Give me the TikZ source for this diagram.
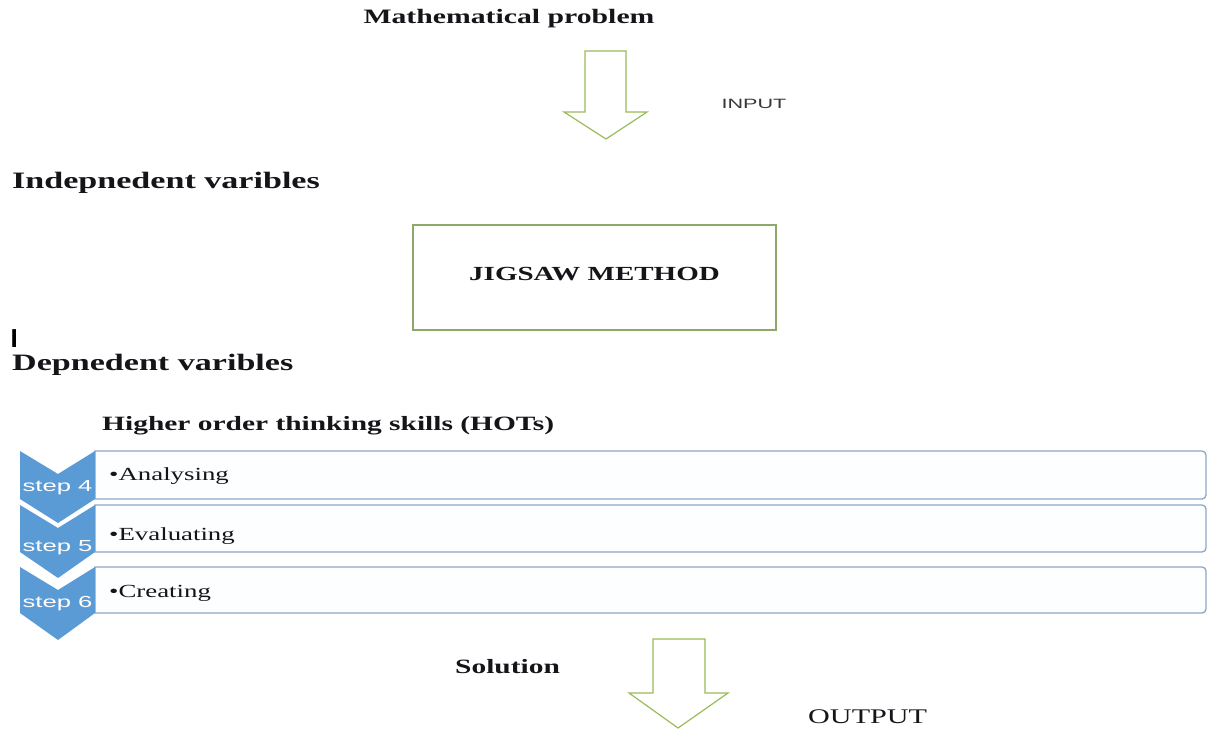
\documentclass[tikz,border=0pt]{standalone}
\usepackage{fontspec}
\setmainfont{Liberation Serif}[FakeStretch=1.45]
\newfontfamily\sansw{Liberation Sans}[FakeStretch=1.6]
\newfontfamily\sansplain{Liberation Sans}
\definecolor{arrowgreen}{RGB}{155,187,89}
\definecolor{boxgreen}{RGB}{140,168,106}
\definecolor{chevblue}{RGB}{91,155,213}
\definecolor{lineblue}{RGB}{140,168,198}
\definecolor{boxfill}{RGB}{253,254,255}
\definecolor{ink}{RGB}{20,20,25}
\tikzset{
  head/.style={font=\fontsize{23.5}{28}\selectfont\bfseries, text=ink, inner sep=0pt, anchor=base west},
  sub/.style={font=\fontsize{20.3}{24}\selectfont\bfseries, text=ink, inner sep=0pt},
  item/.style={font=\fontsize{18.5}{22}\selectfont, text=ink, inner sep=0pt, anchor=base west},
  steplabel/.style={font=\sansw\fontsize{16}{19}\selectfont, text=white, inner sep=0pt, anchor=base},
  blockarrow/.style={draw=arrowgreen, line width=1.2pt, fill=white, line join=miter},
  levelbox/.style={draw=lineblue, line width=1.3pt, fill=boxfill},
  chevron/.style={fill=chevblue, draw=none},
}
\begin{document}
\begin{tikzpicture}[x=1pt,y=-1pt]
\useasboundingbox (0,0) rectangle (1207,729);

% title
\node[sub, font=\fontsize{20.5}{24}\selectfont\bfseries, anchor=base] (mp) at (509,23) {Mathematical problem};

% input arrow
\draw[blockarrow] (585,51) -- (626,51) -- (626,112) -- (647,112) -- (606,139) -- (564,112) -- (585,112) -- cycle;
\node[font=\sansw\fontsize{13.5}{16}\selectfont, text=ink!85, inner sep=0pt, anchor=base] (inp) at (754,108) {INPUT};

% independent variables
\node[head] (indep) at (12,188) {Indepnedent varibles};

% jigsaw box
\node[draw=boxgreen, line width=1.2pt, minimum width=363pt, minimum height=105pt, inner sep=0pt,
      font=\fontsize{20}{24}\selectfont\bfseries, text=ink] (jig) at (594.5,277.5) {\raisebox{7pt}{JIGSAW METHOD}};

% stray mark
\node[font=\sansplain\bfseries\fontsize{26}{30}\selectfont, text=black, inner sep=0pt, anchor=base west] (bar) at (10.5,347) {I};

% dependent variables
\node[head] (dep) at (12,370) {Depnedent varibles};
\node[sub, anchor=base west] (hots) at (102,430) {Higher order thinking skills (HOTs)};

% level boxes (rounded on the right only)
\draw[levelbox] (95,451) [rounded corners=4pt] -- (1206,451) -- (1206,499) [sharp corners] -- (95,499) -- cycle;
\draw[levelbox] (95,505) [rounded corners=4pt] -- (1206,505) -- (1206,552) [sharp corners] -- (95,552) -- cycle;
\draw[levelbox] (95,567) [rounded corners=4pt] -- (1206,567) -- (1206,613) [sharp corners] -- (95,613) -- cycle;

% chevrons
\fill[chevron] (20,451) -- (58,474) -- (95,451) -- (95,499) -- (58,523) -- (20,499) -- cycle;
\fill[chevron] (20,505) -- (58,528) -- (95,505) -- (95,552) -- (58,578) -- (20,552) -- cycle;
\fill[chevron] (20,567) -- (58,590) -- (95,567) -- (95,613) -- (58,640) -- (20,613) -- cycle;

\node[steplabel] (s4) at (57.5,491) {step 4};
\node[steplabel] (s5) at (57.5,551) {step 5};
\node[steplabel] (s6) at (57.5,607) {step 6};

\node[item] (a1) at (109,480) {\textbullet Analysing};
\node[item] (a2) at (109,540) {\textbullet Evaluating};
\node[item] (a3) at (109,597) {\textbullet Creating};

% solution and output arrow
\node[sub, anchor=base west] (sol) at (455,673) {Solution};
\draw[blockarrow] (653,639) -- (705,639) -- (705,693) -- (728,693) -- (678,728) -- (629,693) -- (653,693) -- cycle;
\node[font=\fontsize{20.8}{24}\selectfont, text=ink, inner sep=0pt, anchor=base west] (out) at (808,723) {OUTPUT};
\end{tikzpicture}
\end{document}
